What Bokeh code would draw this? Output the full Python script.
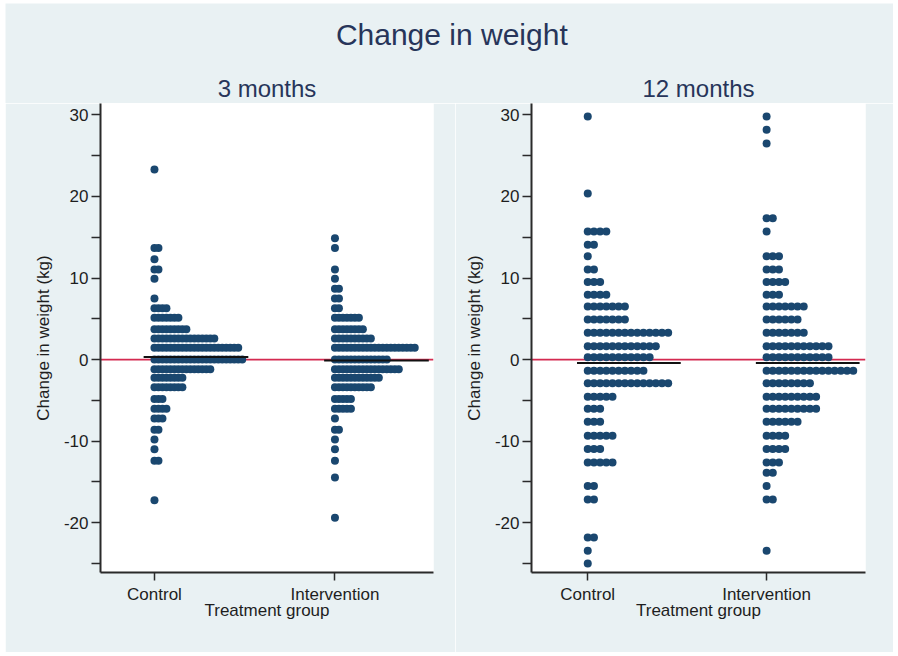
from bokeh.plotting import figure
from bokeh.models import Range1d, FixedTicker, Span, Spacer
from bokeh.layouts import column, row
from bokeh.embed import file_html
from bokeh.resources import INLINE
from bokeh.core.properties import value

# ---------------- data ----------------
MAIN_TITLE = "Change in weight"
PANEL_TITLES = ["3 months", "12 months"]
GROUPS = ["Control", "Intervention"]
X_LABEL = "Treatment group"
Y_LABEL = "Change in weight (kg)"
Y_TICKS = [-25, -20, -15, -10, -5, 0, 5, 10, 15, 20, 25, 30]
Y_LABELLED = [-20, -10, 0, 10, 20, 30]

# 3 months: bin value (kg) and number of dots in that row
M3_CTRL_Y = [23.3, 13.68, 12.3, 11.06, 9.92, 7.5, 6.31, 5.13, 3.73, 2.59, 1.45, 0.02,
             -1.19, -2.21, -3.4, -4.83, -6.02, -7.21, -8.6, -9.79, -10.98, -12.41, -17.25]
M3_CTRL_N = [1, 2, 1, 2, 1, 1, 4, 7, 9, 16, 22, 23,
             15, 8, 8, 3, 4, 3, 2, 1, 1, 2, 1]
M3_INT_Y = [14.87, 13.68, 11.06, 9.92, 8.7, 7.5, 6.31, 5.13, 3.73, 2.59, 1.45, 0.02,
            -1.19, -2.21, -3.4, -4.83, -6.02, -7.21, -8.6, -9.79, -10.98, -12.41, -14.45, -19.4]
M3_INT_N = [1, 1, 1, 1, 2, 2, 2, 7, 8, 10, 21, 14,
            17, 12, 10, 5, 5, 1, 2, 1, 1, 1, 1, 1]
M3_MEDIANS = [0.33, -0.12]

# 12 months
M12_CTRL_Y = [29.82, 20.37, 15.71, 14.07, 12.67, 11.04, 9.53, 7.94, 6.50, 4.91, 3.28, 1.63, 0.28,
              -1.35, -2.91, -4.54, -6.01, -7.61, -9.33, -10.96, -12.6, -15.5, -17.14, -21.8, -23.44, -24.99]
M12_CTRL_N = [1, 1, 4, 2, 1, 2, 3, 4, 7, 7, 14, 12, 11,
              10, 14, 5, 3, 3, 5, 3, 5, 2, 2, 2, 1, 1]
M12_INT_Y = [29.82, 28.18, 26.5, 17.34, 15.71, 12.67, 11.04, 9.53, 7.94, 6.50, 4.91, 3.28, 1.63, 0.28,
             -1.35, -2.91, -4.54, -6.01, -7.61, -9.33, -10.96, -12.6, -13.87, -15.5, -17.14, -23.44]
M12_INT_N = [1, 1, 1, 2, 1, 3, 3, 4, 3, 7, 6, 7, 11, 11,
             15, 8, 9, 9, 6, 4, 4, 3, 2, 1, 2, 1]
M12_MEDIANS = [-0.4, -0.4]

# ---------------- style ----------------
BG = "#e9f1f3"
NAVY = "#1a476f"
TXT = "#1e1e1e"
TITLE_C = "#27355a"
AXIS_C = "#2a2a2a"
RED = "#d42a50"
FONT = "Liberation Sans"

TOTAL_W = 888
HEAD_H = 100
PANEL_H = 549


def expand(ylist, nlist, gx, step):
    xs, ys = [], []
    for yv, n in zip(ylist, nlist):
        for k in range(n):
            xs.append(gx + k * step)
            ys.append(yv)
    return xs, ys


def panel(width, mbl, mbr, x_rng, cy, cn, iy, inn, medians, step):
    p = figure(width=width, height=PANEL_H, x_range=Range1d(*x_rng),
               y_range=Range1d(-26.1, 31.4), toolbar_location=None,
               output_backend="svg", min_border_left=mbl, min_border_right=mbr,
               min_border_top=0, min_border_bottom=80)
    p.background_fill_color = "white"
    p.border_fill_color = BG
    p.outline_line_color = None
    p.grid.visible = False

    p.add_layout(Span(location=0, dimension="width", line_color=RED,
                      line_width=1.8, level="underlay"))

    xs, ys = [], []
    for gi, (yl, nl) in enumerate([(cy, cn), (iy, inn)]):
        a, b = expand(yl, nl, gi + 1, step)
        xs += a
        ys += b
    p.scatter(xs, ys, marker="circle", size=8, fill_color=NAVY, line_color=None)

    gx = [1, 2]
    p.segment(x0=[g - 0.06 for g in gx], y0=medians, x1=[g + 0.52 for g in gx],
              y1=medians, line_color="#111111", line_width=2)

    xa = p.xaxis[0]
    xa.ticker = FixedTicker(ticks=gx)
    xa.major_label_overrides = {g: name for g, name in zip(gx, GROUPS)}
    xa.axis_label = X_LABEL
    ya = p.yaxis[0]
    ya.ticker = FixedTicker(ticks=Y_TICKS)
    ya.major_label_overrides = {t: (str(t) if t in Y_LABELLED else "") for t in Y_TICKS}
    ya.axis_label = Y_LABEL

    for ax in (xa, ya):
        ax.axis_line_color = AXIS_C
        ax.axis_line_width = 2
        ax.major_tick_line_color = AXIS_C
        ax.major_tick_line_width = 1.5
        ax.major_tick_in = 0
        ax.minor_tick_in = 0
        ax.minor_tick_out = 0
        ax.major_label_text_font = FONT
        ax.major_label_text_font_size = "17px"
        ax.major_label_text_color = TXT
        ax.axis_label_text_font = FONT
        ax.axis_label_text_font_size = "17px"
        ax.axis_label_text_font_style = "normal"
        ax.axis_label_text_color = TXT
    xa.major_tick_out = 8
    xa.major_label_standoff = 4
    xa.axis_label_standoff = -6
    ya.major_tick_out = 9
    ya.major_label_standoff = 3
    ya.axis_label_standoff = 8
    return p


LEFT_W, LEFT_MBL, LEFT_MBR = 450, 95, 22
RIGHT_W, RIGHT_MBL, RIGHT_MBR = 438, 76, 28

pL = panel(LEFT_W, LEFT_MBL, LEFT_MBR, (0.701, 2.546),
           M3_CTRL_Y, M3_CTRL_N, M3_INT_Y, M3_INT_N, M3_MEDIANS, 0.0221)
pR = panel(RIGHT_W, RIGHT_MBL, RIGHT_MBR, (0.6855, 2.553),
           M12_CTRL_Y, M12_CTRL_N, M12_INT_Y, M12_INT_N, M12_MEDIANS, 0.0346)

head = figure(width=TOTAL_W, height=HEAD_H, x_range=Range1d(0, TOTAL_W),
              y_range=Range1d(HEAD_H, 0), toolbar_location=None, output_backend="svg",
              x_axis_location=None, y_axis_location=None, min_border=0)
head.background_fill_color = BG
head.border_fill_color = BG
head.outline_line_color = None
head.grid.visible = False

left_center = LEFT_MBL + (LEFT_W - LEFT_MBL - LEFT_MBR) / 2
right_center = LEFT_W + RIGHT_MBL + (RIGHT_W - RIGHT_MBL - RIGHT_MBR) / 2
head.text(x=[446.3], y=[31], text=[MAIN_TITLE], text_font=value(FONT),
          text_font_size="30px", text_color=TITLE_C, text_align="center",
          text_baseline="middle")
head.text(x=[left_center, right_center], y=[84.5, 84.5], text=PANEL_TITLES,
          text_font=value(FONT), text_font_size="24px", text_color=TITLE_C,
          text_align="center", text_baseline="middle")

layout = row(Spacer(width=5, height=652),
             column(Spacer(width=TOTAL_W, height=3), head, row(pL, pR)))
open("out.html", "w").write(file_html(layout, INLINE))
